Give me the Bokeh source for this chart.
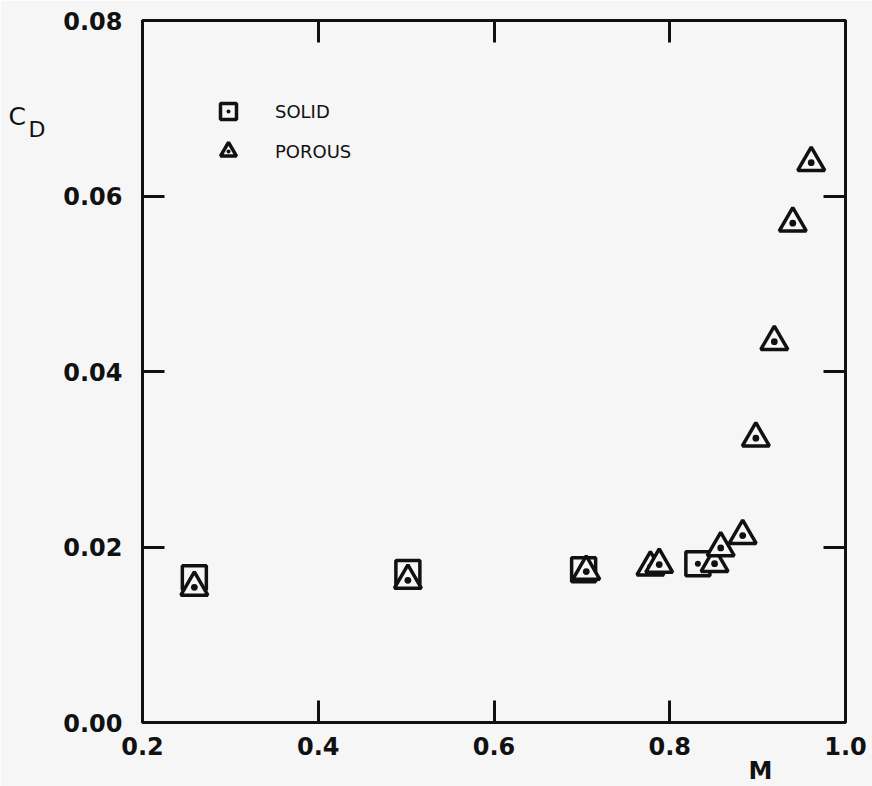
from bokeh.plotting import figure
from bokeh.models import (Range1d, LinearAxis, FixedTicker, PrintfTickFormatter,
                          Label, Legend, LegendItem, ColumnDataSource)
from bokeh.embed import file_html
from bokeh.resources import INLINE

# ---- data ----
solid_M = [0.259, 0.502, 0.702, 0.832]
solid_CD = [0.0165, 0.0171, 0.0174, 0.0181]

porous_M = [0.259, 0.502, 0.705, 0.778, 0.788, 0.851, 0.858, 0.883, 0.898, 0.919, 0.940, 0.961]
porous_CD = [0.0154, 0.0162, 0.0172, 0.0177, 0.0180, 0.0181, 0.0199, 0.0213, 0.0324, 0.0434, 0.0569, 0.0638]

x_ticks = [0.2, 0.4, 0.6, 0.8, 1.0]
y_ticks = [0.00, 0.02, 0.04, 0.06, 0.08]

INK = "#111111"
PAPER = "#f6f6f6"
FONT = "DejaVu Sans"

p = figure(width=872, height=786, output_backend="svg", toolbar_location=None,
           x_range=Range1d(0.2, 1.0), y_range=Range1d(0.0, 0.08),
           x_axis_type=None, y_axis_type=None,
           min_border_left=142, min_border_right=27, min_border_top=20, min_border_bottom=64)
p.background_fill_color = PAPER
p.border_fill_color = PAPER
p.outline_line_color = INK
p.outline_line_width = 3
p.xgrid.visible = False
p.ygrid.visible = False


def style_axis(ax, ticks, fmt, show_labels, standoff):
    ax.ticker = FixedTicker(ticks=ticks)
    ax.formatter = PrintfTickFormatter(format=fmt)
    ax.axis_line_color = INK
    ax.axis_line_width = 3
    ax.major_tick_line_color = INK
    ax.major_tick_line_width = 3
    ax.major_tick_in = 22
    ax.major_tick_out = 0
    ax.minor_tick_line_color = None
    ax.major_label_standoff = standoff
    ax.major_label_text_font = FONT
    ax.major_label_text_font_style = "bold"
    ax.major_label_text_color = INK
    ax.major_label_text_font_size = "24px"
    if not show_labels:
        ax.major_label_overrides = {t: "" for t in ticks}
        ax.major_label_standoff = 0


xb = LinearAxis(); style_axis(xb, x_ticks, "%.1f", True, 14)
xt = LinearAxis(); style_axis(xt, x_ticks, "%.1f", False, 0)
yl = LinearAxis(); style_axis(yl, y_ticks, "%.2f", True, 20)
yr = LinearAxis(); style_axis(yr, y_ticks, "%.2f", False, 0)
p.add_layout(xb, "below")
p.add_layout(xt, "above")
p.add_layout(yl, "left")
p.add_layout(yr, "right")

src_s = ColumnDataSource(dict(M=solid_M, CD=solid_CD))
src_p = ColumnDataSource(dict(M=porous_M, CD=porous_CD))

r_s = p.scatter("M", "CD", source=src_s, marker="square_dot", size=24,
                line_color=INK, line_width=3.5, fill_color=PAPER)
r_p = p.scatter("M", "CD", source=src_p, marker="triangle_dot", size=27,
                line_color=INK, line_width=3.5, fill_color=PAPER)

legend = Legend(items=[LegendItem(label="SOLID", renderers=[r_s]),
                       LegendItem(label="POROUS", renderers=[r_p])],
                location=(62, 551), orientation="vertical",
                glyph_width=48, glyph_height=40, spacing=0,
                padding=0, margin=0, label_standoff=23,
                border_line_color=None, background_fill_alpha=0,
                label_text_font=FONT, label_text_font_size="18px",
                label_text_color=INK)
p.add_layout(legend, "center")

# axis titles placed in the side panels (center annotations are clipped to the frame)
p.add_layout(Label(x=-35, y=606, x_units="screen", y_units="screen", text="C",
                   text_align="left", text_baseline="middle",
                   text_font=FONT, text_font_size="25px", text_color=INK), "left")
p.add_layout(Label(x=2, y=593.5, x_units="screen", y_units="screen", text="D",
                   text_align="left", text_baseline="middle",
                   text_font=FONT, text_font_size="22px", text_color=INK), "left")
p.add_layout(Label(x=618, y=15, x_units="screen", y_units="screen", text="M",
                   text_align="center", text_baseline="middle",
                   text_font=FONT, text_font_size="24px", text_font_style="bold", text_color=INK), "below")

open("out.html", "w").write(file_html(p, INLINE))
